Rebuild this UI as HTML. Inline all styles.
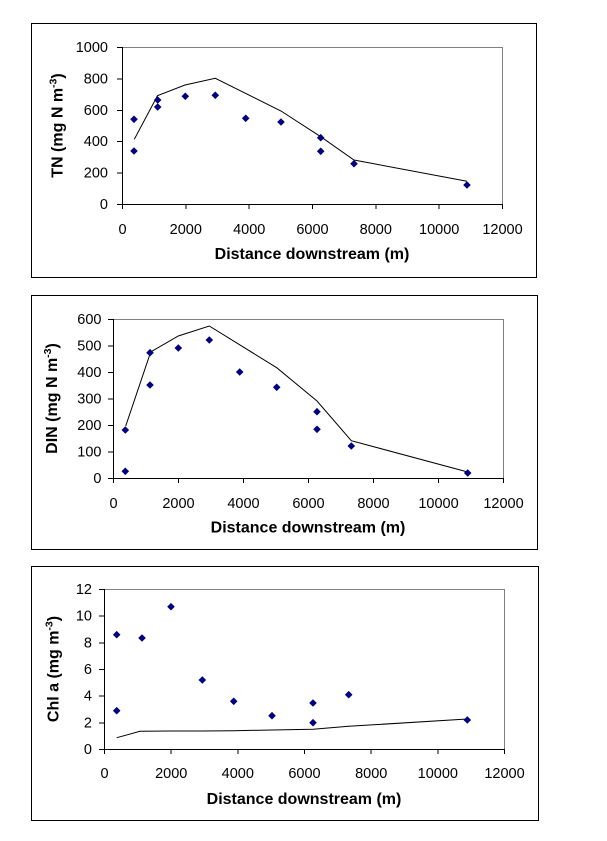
<!DOCTYPE html>
<html><head><meta charset="utf-8"><style>
html,body{margin:0;padding:0;background:#fff;}
svg{display:block;}
text{font-family:"Liberation Sans",Arial,sans-serif;fill:#000;}
.t{font-size:14.5px;}
.b{font-size:16px;font-weight:bold;}
</style></head><body>
<svg width="607" height="841" viewBox="0 0 607 841" xmlns="http://www.w3.org/2000/svg">
<rect x="0" y="0" width="607" height="841" fill="#fff"/>
<defs><polygon id="d" points="0,-3.8 3.8,0 0,3.8 -3.8,0" fill="#000080"/></defs>

<!-- Panel 1 -->
<rect x="31.5" y="23.5" width="505" height="254" fill="none" stroke="#000" stroke-width="1"/>
<g shape-rendering="crispEdges" stroke-width="1">
<line x1="122" y1="47.5" x2="502.5" y2="47.5" stroke="#808080"/>
<line x1="502.5" y1="47" x2="502.5" y2="204" stroke="#808080"/>
<line x1="122.5" y1="47" x2="122.5" y2="209" stroke="#000"/>
<line x1="117" y1="204.5" x2="503" y2="204.5" stroke="#000"/>
<g stroke="#000">
<line x1="117" y1="173.1" x2="122" y2="173.1"/><line x1="117" y1="141.7" x2="122" y2="141.7"/>
<line x1="117" y1="110.3" x2="122" y2="110.3"/><line x1="117" y1="78.9" x2="122" y2="78.9"/>
<line x1="117" y1="47.5" x2="122" y2="47.5"/>
<line x1="185.8" y1="204" x2="185.8" y2="209"/><line x1="249.2" y1="204" x2="249.2" y2="209"/>
<line x1="312.5" y1="204" x2="312.5" y2="209"/><line x1="375.8" y1="204" x2="375.8" y2="209"/>
<line x1="439.2" y1="204" x2="439.2" y2="209"/><line x1="502.5" y1="204" x2="502.5" y2="209"/>
</g></g>
<g class="t" text-anchor="end">
<text x="108" y="209">0</text><text x="108" y="177.6">200</text><text x="108" y="146.2">400</text>
<text x="108" y="114.8">600</text><text x="108" y="83.4">800</text><text x="108" y="52">1000</text>
</g>
<g class="t" text-anchor="middle">
<text x="122.5" y="234">0</text><text x="185.8" y="234">2000</text><text x="249.2" y="234">4000</text>
<text x="312.5" y="234">6000</text><text x="375.8" y="234">8000</text><text x="439.2" y="234">10000</text><text x="502.5" y="234">12000</text>
</g>
<text class="b" x="312" y="259" text-anchor="middle">Distance downstream (m)</text>
<text class="b" transform="translate(62.5,125.5) rotate(-90)" text-anchor="middle">TN (mg N m<tspan font-size="10.5px" dy="-6">-3</tspan><tspan dy="6">)</tspan></text>
<polyline fill="none" stroke="#000" stroke-width="1" points="134.3,139.3 157.5,95.7 185,85 215.3,78.3 281,111 320.7,136.7 354,160 467,181.3"/>
<g>
<use href="#d" x="134" y="119.3"/><use href="#d" x="134" y="151"/><use href="#d" x="157.7" y="100"/>
<use href="#d" x="157.7" y="107"/><use href="#d" x="185.3" y="96.3"/><use href="#d" x="215.3" y="95.3"/>
<use href="#d" x="245.7" y="118.3"/><use href="#d" x="281" y="122"/><use href="#d" x="320.7" y="137.7"/>
<use href="#d" x="320.7" y="151.3"/><use href="#d" x="354" y="163.7"/><use href="#d" x="467" y="185"/>
</g>

<!-- Panel 2 -->
<rect x="31.5" y="295.5" width="506" height="254" fill="none" stroke="#000" stroke-width="1"/>
<g shape-rendering="crispEdges" stroke-width="1">
<line x1="113" y1="319.5" x2="503.5" y2="319.5" stroke="#808080"/>
<line x1="503.5" y1="319" x2="503.5" y2="478" stroke="#808080"/>
<line x1="113.5" y1="319" x2="113.5" y2="483" stroke="#000"/>
<line x1="108" y1="478.5" x2="504" y2="478.5" stroke="#000"/>
<g stroke="#000">
<line x1="108" y1="452" x2="113" y2="452"/><line x1="108" y1="425.5" x2="113" y2="425.5"/>
<line x1="108" y1="399" x2="113" y2="399"/><line x1="108" y1="372.5" x2="113" y2="372.5"/>
<line x1="108" y1="346" x2="113" y2="346"/><line x1="108" y1="319.5" x2="113" y2="319.5"/>
<line x1="178.5" y1="478" x2="178.5" y2="483"/><line x1="243.5" y1="478" x2="243.5" y2="483"/>
<line x1="308.5" y1="478" x2="308.5" y2="483"/><line x1="373.5" y1="478" x2="373.5" y2="483"/>
<line x1="438.5" y1="478" x2="438.5" y2="483"/><line x1="503.5" y1="478" x2="503.5" y2="483"/>
</g></g>
<g class="t" text-anchor="end">
<text x="101.5" y="483">0</text><text x="101.5" y="456.5">100</text><text x="101.5" y="430">200</text>
<text x="101.5" y="403.5">300</text><text x="101.5" y="377">400</text><text x="101.5" y="350.5">500</text><text x="101.5" y="324">600</text>
</g>
<g class="t" text-anchor="middle">
<text x="113.5" y="508">0</text><text x="178.5" y="508">2000</text><text x="243.5" y="508">4000</text>
<text x="308.5" y="508">6000</text><text x="373.5" y="508">8000</text><text x="438.5" y="508">10000</text><text x="503.5" y="508">12000</text>
</g>
<text class="b" x="308" y="532.5" text-anchor="middle">Distance downstream (m)</text>
<text class="b" transform="translate(57,398.5) rotate(-90)" text-anchor="middle">DIN (mg N m<tspan font-size="10.5px" dy="-6">-3</tspan><tspan dy="6">)</tspan></text>
<polyline fill="none" stroke="#000" stroke-width="1" points="125.7,426 150.7,352 178.3,336 209.3,326 276.7,367.7 317,401 351.3,440.7 467.7,472"/>
<g>
<use href="#d" x="125.3" y="430"/><use href="#d" x="125.3" y="471.3"/><use href="#d" x="150" y="352.7"/>
<use href="#d" x="150" y="385"/><use href="#d" x="178.3" y="348"/><use href="#d" x="209.3" y="340"/>
<use href="#d" x="239.7" y="372"/><use href="#d" x="276.7" y="387.3"/><use href="#d" x="317" y="411.7"/>
<use href="#d" x="317" y="429.3"/><use href="#d" x="351.3" y="446"/><use href="#d" x="467.7" y="473"/>
</g>

<!-- Panel 3 -->
<rect x="31.5" y="566.5" width="507" height="254" fill="none" stroke="#000" stroke-width="1"/>
<g shape-rendering="crispEdges" stroke-width="1">
<line x1="104" y1="589.5" x2="504.5" y2="589.5" stroke="#808080"/>
<line x1="504.5" y1="589" x2="504.5" y2="749" stroke="#808080"/>
<line x1="104.5" y1="589" x2="104.5" y2="754" stroke="#000"/>
<line x1="99" y1="749.5" x2="505" y2="749.5" stroke="#000"/>
<g stroke="#000">
<line x1="99" y1="722.8" x2="104" y2="722.8"/><line x1="99" y1="696.2" x2="104" y2="696.2"/>
<line x1="99" y1="669.5" x2="104" y2="669.5"/><line x1="99" y1="642.8" x2="104" y2="642.8"/>
<line x1="99" y1="616.2" x2="104" y2="616.2"/><line x1="99" y1="589.5" x2="104" y2="589.5"/>
<line x1="171.2" y1="749" x2="171.2" y2="754"/><line x1="237.8" y1="749" x2="237.8" y2="754"/>
<line x1="304.5" y1="749" x2="304.5" y2="754"/><line x1="371.2" y1="749" x2="371.2" y2="754"/>
<line x1="437.8" y1="749" x2="437.8" y2="754"/><line x1="504.5" y1="749" x2="504.5" y2="754"/>
</g></g>
<g class="t" text-anchor="end">
<text x="92" y="754">0</text><text x="92" y="727.3">2</text><text x="92" y="700.7">4</text>
<text x="92" y="674">6</text><text x="92" y="647.3">8</text><text x="92" y="620.7">10</text><text x="92" y="594">12</text>
</g>
<g class="t" text-anchor="middle">
<text x="104.5" y="778">0</text><text x="171.2" y="778">2000</text><text x="237.8" y="778">4000</text>
<text x="304.5" y="778">6000</text><text x="371.2" y="778">8000</text><text x="437.8" y="778">10000</text><text x="504.5" y="778">12000</text>
</g>
<text class="b" x="304" y="804" text-anchor="middle">Distance downstream (m)</text>
<text class="b" transform="translate(58.5,669) rotate(-90)" text-anchor="middle">Chl a (mg m<tspan font-size="10.5px" dy="-6">-3</tspan><tspan dy="6">)</tspan></text>
<polyline fill="none" stroke="#000" stroke-width="1" points="116.7,737.7 140,731.3 171,731 202,731 233.7,730.7 272,730 313,729.3 348.7,726.3 467.3,719"/>
<g>
<use href="#d" x="116.7" y="634.7"/><use href="#d" x="116.7" y="710.7"/><use href="#d" x="142" y="638"/>
<use href="#d" x="171" y="606.7"/><use href="#d" x="202.3" y="680"/><use href="#d" x="233.7" y="701.3"/>
<use href="#d" x="272" y="715.7"/><use href="#d" x="313" y="703"/><use href="#d" x="313" y="722.7"/>
<use href="#d" x="348.7" y="694.7"/><use href="#d" x="467.3" y="720"/>
</g>
</svg>
</body></html>
